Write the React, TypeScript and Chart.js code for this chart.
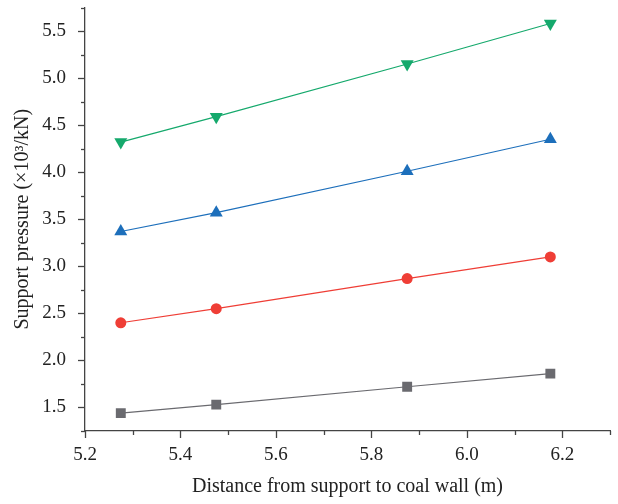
import React, { useEffect, useRef } from "react";
import { Chart, registerables } from "chart.js";

Chart.register(...registerables);

const distances = [5.275, 5.475, 5.875, 6.175];
const seriesA = [1.44, 1.53, 1.72, 1.86];
const seriesB = [2.4, 2.55, 2.87, 3.1];
const seriesC = [3.37, 3.57, 4.01, 4.35];
const seriesD = [4.32, 4.59, 5.15, 5.58];

const FONT = "'Liberation Serif', 'DejaVu Serif', serif";

const tickPlugin = {
  id: "customTicks",
  afterDraw(chart: any) {
    const ctx = chart.ctx;
    const xs = chart.scales.x;
    const ys = chart.scales.y;
    ctx.save();
    ctx.strokeStyle = "#444";
    ctx.lineWidth = 1.3;
    const yb = chart.chartArea.bottom;
    xs.ticks.forEach((t: any) => {
      const major = Math.round(t.value * 10) % 2 === 0;
      const px = Math.round(xs.getPixelForValue(t.value)) + 0.5;
      ctx.beginPath();
      ctx.moveTo(px, yb);
      ctx.lineTo(px, yb + (major ? 7 : 4));
      ctx.stroke();
    });
    const xl = chart.chartArea.left;
    ys.ticks.forEach((t: any) => {
      const major = Math.round(t.value * 4) % 2 === 0;
      const py = Math.round(ys.getPixelForValue(t.value)) + 0.5;
      ctx.beginPath();
      ctx.moveTo(xl, py);
      ctx.lineTo(xl - (major ? 7 : 4), py);
      ctx.stroke();
    });
    ctx.restore();
  },
};

function mk(label: string, data: number[], color: string, style: string, radius: number, rotation = 0) {
  return {
    label,
    data: distances.map((x, i) => ({ x, y: data[i] })),
    borderColor: color,
    backgroundColor: color,
    borderWidth: 1.2,
    pointStyle: style,
    pointRadius: radius,
    pointRotation: rotation,
    pointBorderWidth: 0,
    pointBackgroundColor: color,
    showLine: true,
  };
}

export default function App() {
  const ref = useRef<HTMLCanvasElement>(null);
  useEffect(() => {
    document.body.style.margin = "0";
    const chart = new Chart(ref.current!, {
      type: "scatter",
      data: {
        datasets: [
          mk("A", seriesA, "#6a6a6f", "rect", 7),
          mk("B", seriesB, "#ef3e36", "circle", 5.5),
          mk("C", seriesC, "#1d6fbb", "triangle", 7.5),
          mk("D", seriesD, "#15a96c", "triangle", 7.5, 180),
        ],
      },
      options: {
        animation: false,
        responsive: false,
        maintainAspectRatio: false,
        layout: { padding: { left: 0, right: 8, top: 7, bottom: 0 } },
        plugins: { legend: { display: false }, tooltip: { enabled: false } },
        scales: {
          x: {
            type: "linear",
            min: 5.2,
            max: 6.3,
            grid: { display: false, drawTicks: false },
            border: { display: true, color: "#444", width: 1.3 },
            ticks: {
              stepSize: 0.1,
              padding: 13,
              color: "#222",
              font: { family: FONT, size: 19 },
              autoSkip: false,
              maxRotation: 0,
              callback: (v: any) => (Math.round(Number(v) * 10) % 2 === 0 ? Number(v).toFixed(1) : ""),
            },
            title: {
              display: true,
              text: "Distance from support to coal wall (m)",
              color: "#222",
              font: { family: FONT, size: 20 },
              padding: { top: 0, bottom: 5 },
            },
            afterFit: (s: any) => {
              s.height = 73;
              s.paddingLeft = 0;
              s.paddingRight = 0;
            },
          },
          y: {
            type: "linear",
            min: 1.25,
            max: 5.75,
            grid: { display: false, drawTicks: false },
            border: { display: true, color: "#444", width: 1.3 },
            ticks: {
              stepSize: 0.25,
              padding: 19,
              color: "#222",
              font: { family: FONT, size: 19 },
              autoSkip: false,
              callback: (v: any) => (Math.round(Number(v) * 4) % 2 === 0 ? Number(v).toFixed(1) : ""),
            },
            title: {
              display: true,
              text: "Support pressure (×10³/kN)",
              color: "#222",
              font: { family: FONT, size: 20 },
              padding: { top: 11, bottom: 0 },
            },
            afterFit: (s: any) => {
              s.width = 85;
              s.paddingTop = 0;
              s.paddingBottom = 0;
            },
          },
        },
      },
      plugins: [tickPlugin],
    });
    return () => chart.destroy();
  }, []);
  return (
    <div style={{ position: "absolute", left: 0, top: 0, width: 618, height: 504 }}>
      <canvas ref={ref} width={618} height={504} style={{ width: 618, height: 504 }} />
    </div>
  );
}
